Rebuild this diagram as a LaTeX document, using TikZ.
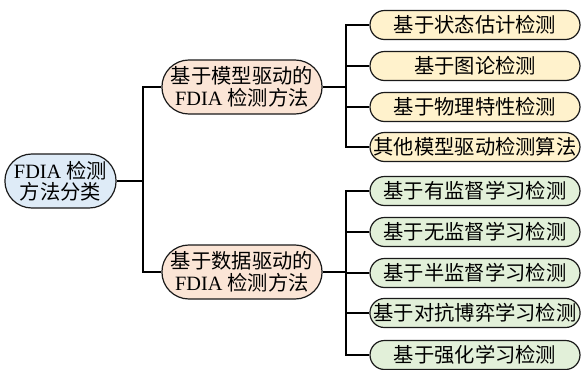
\documentclass[tikz,border=0pt]{standalone}
\usepackage{fontspec}
\setmainfont{Liberation Serif}
\newfontfamily\cjk{Noto Sans CJK SC}
\usetikzlibrary{shapes.misc}
\definecolor{rootfill}{HTML}{DEEBF7}
\definecolor{midfill}{HTML}{FBE5D6}
\definecolor{modfill}{HTML}{FFF2CC}
\definecolor{datfill}{HTML}{E2F0D9}
\definecolor{edge}{HTML}{1A1A1A}
\tikzset{
  pill/.style={rounded rectangle, draw=edge, line width=1.2pt, inner sep=0pt,
    align=center, font=\fontsize{20.3}{24.5}\selectfont},
  rootbox/.style={pill, fill=rootfill, minimum width=109pt, minimum height=54pt},
  midbox/.style={pill, fill=midfill, minimum width=152pt, minimum height=54pt},
  modleaf/.style={pill, fill=modfill, minimum width=210pt, minimum height=29pt},
  datleaf/.style={pill, fill=datfill, minimum width=210pt, minimum height=29pt},
  conn/.style={draw=black, line width=1.3pt},
  thick conn/.style={draw=black, line width=1.8pt}
}
\begin{document}
\begin{tikzpicture}[x=1pt,y=-1pt]
\useasboundingbox (0,0) rectangle (582,370);
\node[rootbox] (root) at (60.5,181) {FDIA {\cjk 检测}\\[-3pt]{\cjk 方法分类}};
\node[midbox] (m1) at (242,87) {{\cjk 基于模型驱动的}\\[-3pt]FDIA {\cjk 检测方法}};
\node[midbox] (m2) at (242,272) {{\cjk 基于数据驱动的}\\[-3pt]FDIA {\cjk 检测方法}};
\node[modleaf] (a1) at (475,25) {\cjk 基于状态估计检测};
\node[modleaf] (a2) at (475,66) {\cjk 基于图论检测};
\node[modleaf] (a3) at (475,107) {\cjk 基于物理特性检测};
\node[modleaf] (a4) at (475,147) {\cjk 其他模型驱动检测算法};
\node[datleaf] (b1) at (475,191) {\cjk 基于有监督学习检测};
\node[datleaf] (b2) at (475,232) {\cjk 基于无监督学习检测};
\node[datleaf] (b3) at (475,273) {\cjk 基于半监督学习检测};
\node[datleaf] (b4) at (475,313) {\cjk 基于对抗博弈学习检测};
\node[datleaf] (b5) at (475,355) {\cjk 基于强化学习检测};
\coordinate (j0) at (143,181);
\coordinate (j1) at (346,87);
\coordinate (j2) at (346,272);
\draw[thick conn] (root.east) -- (j0);
\draw[conn] (j0) |- (m1.west);
\draw[conn] (j0) |- (m2.west);
\draw[thick conn] (m1.east) -- (j1);
\draw[thick conn] (m2.east) -- (j2);
\foreach \n in {a1,a2,a3,a4}{\draw[conn] (j1) |- (\n.west);}
\foreach \n in {b1,b2,b3,b4,b5}{\draw[conn] (j2) |- (\n.west);}
\end{tikzpicture}
\end{document}
